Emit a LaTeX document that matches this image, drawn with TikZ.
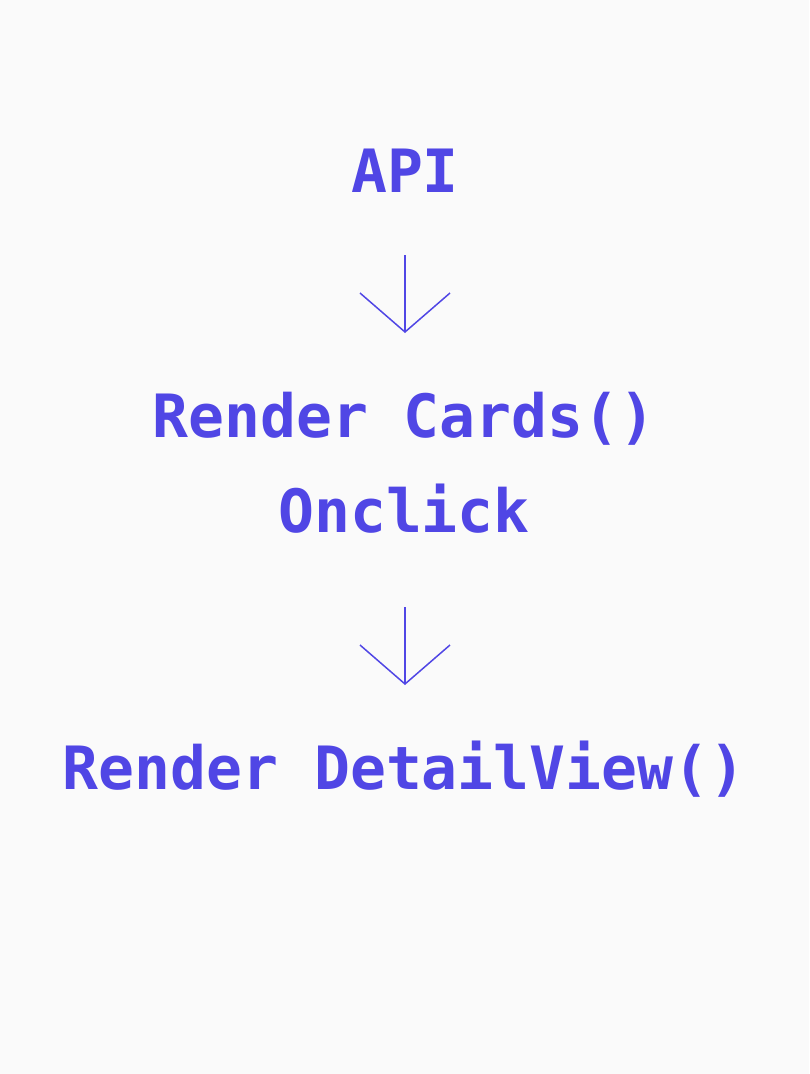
\documentclass[tikz,border=0pt]{standalone}
\usepackage{fontspec}
\setmonofont{DejaVu Sans Mono}
\usetikzlibrary{arrows.meta}
\definecolor{bg}{HTML}{FAFAFA}
\definecolor{ink}{HTML}{5046E5}
\begin{document}
\begin{tikzpicture}[x=1pt,y=-1pt,
  label/.style={text=ink,font=\ttfamily\bfseries\fontsize{59.7}{59.7}\selectfont,anchor=base,inner sep=0pt},
  flow/.style={draw=ink,line width=1.5pt,-{Straight Barb[length=39pt,width=90pt]}}]
\fill[bg] (0,0) rectangle (809,1074);
\useasboundingbox (0,0) rectangle (809,1074);
\node[label] (api) at (405,192) {API};
\node[label] (cards) at (404,437) {Render Cards()};
\node[label] (click) at (404,532) {Onclick};
\node[label] (detail) at (404,789) {Render DetailView()};
\coordinate (a1s) at (405,255);
\coordinate (a1e) at (405,333);
\coordinate (a2s) at (405,607);
\coordinate (a2e) at (405,685);
\draw[flow] (a1s) -- (a1e);
\draw[flow] (a2s) -- (a2e);
\end{tikzpicture}
\end{document}
